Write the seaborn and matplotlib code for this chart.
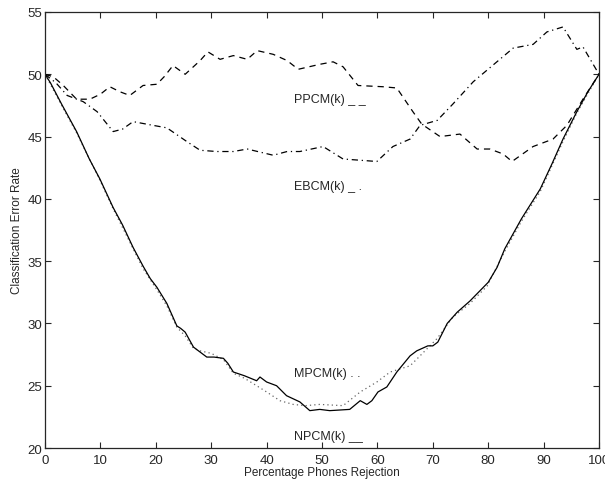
import matplotlib
matplotlib.use("Agg")
import matplotlib.pyplot as plt
import seaborn as sns

# NPCM(k) - solid
npcm_x = [0, 1, 3, 5.7, 8, 9.9, 12.3, 14, 15.9, 17.7, 19, 20.2, 22, 23.8, 24.5, 25.3, 26.8, 28,
          29.2, 30.5, 32.2, 33, 34, 36, 38.2, 38.8, 40, 41.8, 43.6, 46, 47.8, 49.6, 51.4, 55,
          56.9, 58.1, 59, 60.1, 61.7, 63.5, 65.9, 67.1, 69.1, 70, 70.9, 72.6, 74.4, 76.7, 80,
          81.6, 83, 86, 89.4, 91.5, 93.5, 96, 98, 100]
npcm_y = [50, 49.3, 47.6, 45.4, 43.2, 41.6, 39.3, 37.9, 36.1, 34.6, 33.6, 32.9, 31.6, 29.8, 29.6,
          29.3, 28.1, 27.7, 27.3, 27.3, 27.2, 26.8, 26.1, 25.8, 25.4, 25.7, 25.3, 25.0, 24.2, 23.7,
          23.0, 23.1, 23.0, 23.1, 23.8, 23.5, 23.8, 24.5, 24.9, 26.1, 27.4, 27.8, 28.2, 28.2, 28.5,
          30.0, 30.9, 31.8, 33.3, 34.5, 36.0, 38.4, 40.8, 42.8, 44.8, 47.0, 48.6, 50]

# MPCM(k) - dotted
mpcm_x = [0, 3, 5.7, 9.9, 12.3, 15.9, 17.7, 20.2, 22, 23.8, 25.3, 26.8, 28, 30, 32.2, 34, 36,
          38.2, 40, 42.4, 44.8, 47, 49.6, 53.8, 56.9, 59.9, 62.3, 65.9, 67.7, 70.8, 73.6, 76.7,
          79.8, 83, 86, 89.4, 93.5, 96, 97.8, 100]
mpcm_y = [50, 47.5, 45.3, 41.5, 39.2, 36.0, 34.4, 32.7, 31.4, 29.7, 29.0, 28.0, 27.8, 27.6, 27.1,
          26.0, 25.6, 25.0, 24.5, 23.8, 23.5, 23.4, 23.5, 23.4, 24.5, 25.3, 26.1, 26.6, 27.4, 28.8,
          30.5, 31.6, 33.0, 35.8, 38.2, 40.6, 44.6, 46.9, 48.3, 50]

# PPCM(k) - dashed
ppcm_x = [0, 1.5, 3.3, 5.7, 8.1, 10, 11.7, 13.5, 15.3, 17.7, 20.2, 21.5, 23.1, 25.3, 28, 29.4,
          31.6, 34, 36.5, 38.3, 41.2, 43.7, 45.7, 49.6, 52, 53.8, 56.5, 61, 63.5, 66.4, 68, 71.3,
          74.9, 78, 80.3, 82.7, 84.3, 88.1, 91.7, 94.2, 97.1, 100]
ppcm_y = [50, 49.8, 49.1, 48.0, 48.0, 48.4, 49.0, 48.6, 48.3, 49.1, 49.2, 49.8, 50.7, 50.0, 51.1,
          51.8, 51.2, 51.5, 51.2, 51.9, 51.6, 51.1, 50.4, 50.8, 51.0, 50.6, 49.1, 49.0, 48.9, 47.0,
          46.0, 45.0, 45.2, 44.0, 44.0, 43.6, 43.0, 44.2, 44.8, 45.9, 48.0, 50]

# EBCM(k) - dash-dot
ebcm_x = [0, 2, 4, 6.9, 9.4, 12.3, 14, 15.9, 19.5, 22, 25.6, 28, 31, 34, 36.5, 41.2, 43.7, 46,
          50.2, 53.8, 59.9, 62.8, 65.9, 67.7, 70.8, 73.6, 77.3, 82.1, 84.5, 88.1, 90.6, 93.5, 96,
          97.1, 100]
ebcm_y = [50, 49.3, 48.3, 47.8, 47.0, 45.4, 45.6, 46.2, 45.9, 45.7, 44.6, 43.9, 43.8, 43.8, 44.0,
          43.5, 43.8, 43.8, 44.2, 43.2, 43.0, 44.2, 44.8, 45.9, 46.3, 47.6, 49.4, 51.2, 52.1, 52.4,
          53.4, 53.8, 52.0, 52.2, 50]

labels = ["PPCM(k) _ _", "EBCM(k) _ .", "MPCM(k) . .", "NPCM(k) __"]
label_y = [48.0, 41.0, 26.0, 21.0]

sns.set_style("ticks")
plt.rcParams["font.family"] = ["Liberation Sans", "DejaVu Sans"]

fig = plt.figure(figsize=(6.05, 4.81), dpi=100)
ax = fig.add_axes([0.0744, 0.0665, 0.9157, 0.9065])

sns.lineplot(x=mpcm_x, y=mpcm_y, ax=ax, color="0.4", lw=0.9, linestyle=(0, (1, 2.5)))
sns.lineplot(x=npcm_x, y=npcm_y, ax=ax, color="black", lw=0.9)
sns.lineplot(x=ppcm_x, y=ppcm_y, ax=ax, color="black", lw=0.9, linestyle=(0, (5, 4)))
sns.lineplot(x=ebcm_x, y=ebcm_y, ax=ax, color="black", lw=0.9, linestyle=(0, (5, 3, 1, 3)))

for lab, ly in zip(labels, label_y):
    ax.text(45, ly, lab, fontsize=9, va="center", ha="left")

ax.set_xlim(0, 100)
ax.set_ylim(20, 55)
ax.set_xticks(range(0, 101, 10))
ax.set_yticks(range(20, 56, 5))
ax.tick_params(direction="in", top=True, right=True, labelsize=9.5, length=4, width=0.8)
ax.tick_params(axis="x", pad=4)
ax.tick_params(axis="y", pad=2)
for s in ax.spines.values():
    s.set_linewidth(0.9)
ax.set_xlabel("Percentage Phones Rejection", fontsize=8.5, labelpad=0)
ax.set_ylabel("Classification Error Rate", fontsize=8.5, labelpad=3)

fig.savefig("out.png", dpi=100)
